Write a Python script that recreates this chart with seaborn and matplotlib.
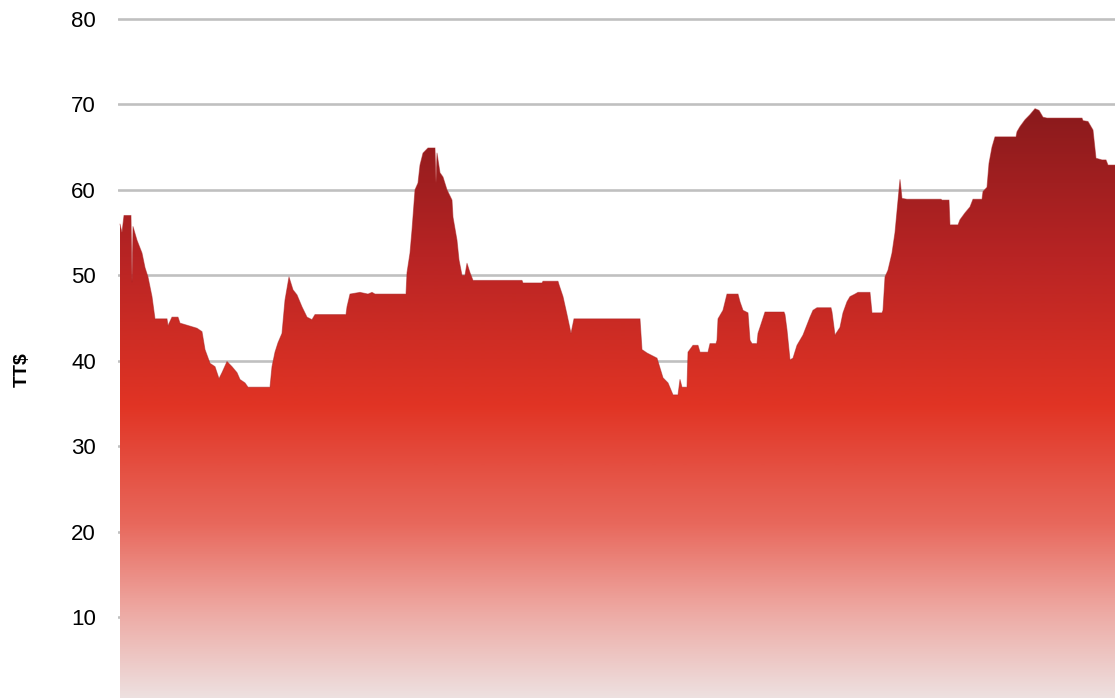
import numpy as np
import pandas as pd
import matplotlib
matplotlib.use("Agg")
import matplotlib.pyplot as plt
from matplotlib.colors import LinearSegmentedColormap
import seaborn as sns

# trading-day index and price (TT$)
day = [0, 2, 4, 11, 12, 13, 17, 22, 25, 28, 32, 35, 47, 48, 52, 58, 60, 77, 82, 85, 90, 95,
       99, 102, 107, 112, 117, 120, 125, 128, 150, 152, 155, 158, 162, 165, 169, 173, 177,
       182, 187, 192, 195, 226, 227, 230, 240, 248, 252, 255, 286, 287, 290, 292, 295, 298,
       300, 303, 308, 313, 315, 316, 317, 320, 323, 327, 332, 333, 337, 339, 342, 345, 347,
       350, 353, 402, 403, 422, 423, 438, 439, 443, 447, 451, 454, 520, 522, 527, 537, 543,
       548, 553, 558, 560, 562, 567, 568, 573, 578, 580, 588, 590, 596, 597, 598, 603, 607,
       618, 620, 623, 628, 630, 632, 637, 638, 640, 645, 664, 665, 667, 670, 673, 677, 680,
       683, 686, 690, 693, 697, 711, 712, 715, 720, 723, 727, 730, 735, 738, 750, 752, 762,
       763, 765, 768, 772, 775, 778, 780, 782, 787, 821, 822, 829, 830, 838, 840, 845, 850,
       853, 862, 863, 867, 869, 872, 875, 896, 897, 900, 905, 910, 915, 919, 923, 927, 962,
       963, 968, 973, 976, 982, 986, 988, 995]
price = [56.0, 55.0, 57.0, 57.0, 49.2, 55.7, 54.1, 52.6, 50.9, 49.8, 47.5, 44.9, 44.9, 44.1,
         45.1, 45.1, 44.4, 43.8, 43.4, 41.3, 39.7, 39.3, 37.9, 38.6, 39.9, 39.3, 38.6, 37.8,
         37.4, 36.9, 36.9, 39.3, 41.0, 42.1, 43.2, 47.1, 49.8, 48.3, 47.7, 46.3, 45.1, 44.8,
         45.4, 45.4, 46.3, 47.8, 48.0, 47.8, 48.0, 47.8, 47.8, 50.3, 52.6, 55.3, 60.0, 60.8,
         62.9, 64.3, 64.9, 64.9, 64.9, 60.8, 64.3, 62.0, 61.5, 60.0, 58.8, 56.8, 54.1, 51.8,
         50.0, 50.0, 51.4, 50.3, 49.4, 49.4, 49.1, 49.1, 49.3, 49.3, 48.9, 47.5, 45.4, 43.2,
         44.9, 44.9, 41.3, 40.9, 40.3, 38.0, 37.4, 36.0, 36.0, 37.8, 36.9, 36.9, 41.0, 41.8,
         41.8, 41.0, 41.0, 42.0, 42.0, 42.4, 44.9, 45.9, 47.8, 47.8, 46.9, 45.9, 45.6, 42.4,
         42.0, 42.0, 43.2, 43.9, 45.7, 45.7, 45.4, 43.6, 40.1, 40.3, 41.8, 42.4, 43.0, 43.9,
         45.1, 45.9, 46.2, 46.2, 45.7, 43.0, 43.9, 45.6, 46.9, 47.5, 47.8, 48.0, 48.0, 45.6,
         45.6, 45.9, 49.8, 50.6, 52.6, 55.0, 58.8, 61.2, 59.0, 58.9, 58.9, 58.8, 58.8, 55.9,
         55.9, 56.5, 57.3, 58.0, 58.9, 58.9, 59.8, 60.3, 63.1, 65.0, 66.2, 66.2, 66.8, 67.4,
         68.2, 68.8, 69.5, 69.3, 68.5, 68.4, 68.4, 68.1, 68.0, 67.0, 63.7, 63.5, 63.5, 62.9,
         62.9]

yticks = [10, 20, 30, 40, 50, 60, 70, 80]
ylabel = "TT$"

df = pd.DataFrame({"day": day, "price": price})

sns.set_style("white")
plt.rcParams["font.family"] = ["Liberation Sans", "DejaVu Sans"]

fig = plt.figure(figsize=(11.15, 6.98), dpi=100)
ax = fig.add_axes([118 / 1115, 0.0, 1 - 118 / 1115, (698 - 10) / 698])

# gridlines behind the area
for t in yticks:
    ax.axhline(t, color="#c0c0c0", lw=1.9, zorder=0)

# outline through seaborn
sns.lineplot(data=df, x="day", y="price", ax=ax, color="#a61f20", lw=0.7,
             alpha=0.5, zorder=3, estimator=None, sort=False)

# gradient fill clipped to the area
poly = ax.fill_between(df["day"], df["price"], 0, color="none", lw=0, zorder=2)
cmap = LinearSegmentedColormap.from_list(
    "grad",
    [(0.0, "#ede3e3"), (0.15, "#eeaaa4"), (0.3, "#e8685c"), (0.5, "#e13424"),
     (0.75, "#b82424"), (1.0, "#8a1a1c")])
grad = np.linspace(0, 1, 512).reshape(-1, 1)
top = max(price)
im = ax.imshow(grad, cmap=cmap, origin="lower", aspect="auto",
               extent=[min(day), max(day), 0, top], zorder=2, interpolation="bilinear")
path = poly.get_paths()[0]
im.set_clip_path(path, transform=ax.transData)
ax.set_xlim(-2, 995)
ax.set_ylim(0.52, 81.05)

ax.set_yticks(yticks)
ax.set_yticklabels([str(t) for t in yticks], fontsize=16, color="black")
ax.tick_params(axis="y", length=0, pad=16)
ax.set_xticks([])
ax.set_xlabel("")
ax.set_ylabel(ylabel, fontsize=14, fontweight="bold", color="black")
ax.yaxis.set_label_coords(-0.088, 0.477)
for s in ax.spines.values():
    s.set_visible(False)

fig.savefig("out.png", dpi=100)
